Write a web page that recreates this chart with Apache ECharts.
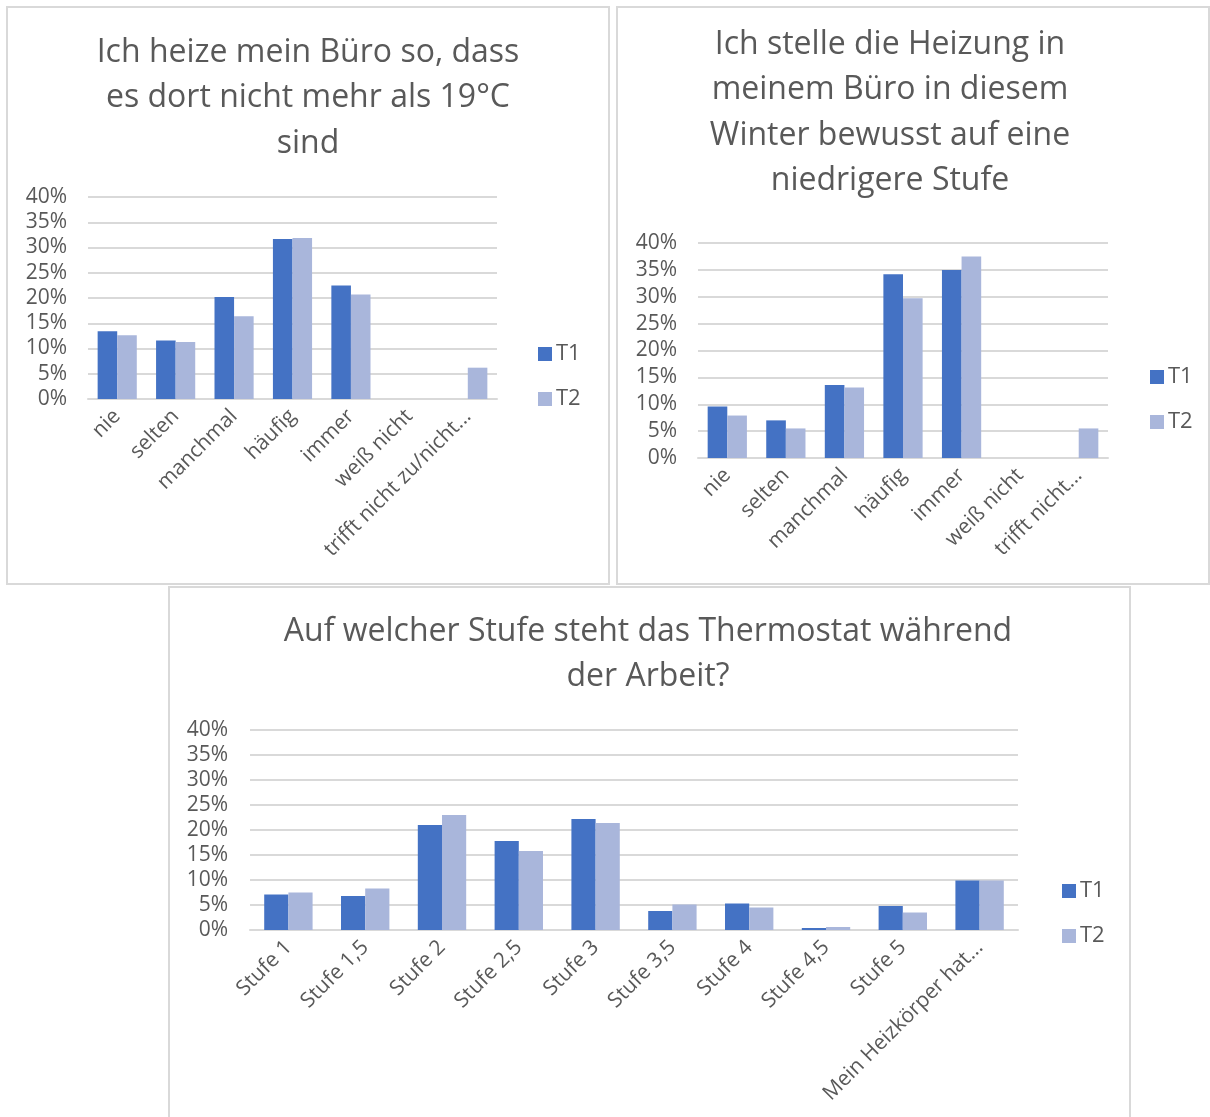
<!DOCTYPE html>
<html>
<head>
<meta charset="utf-8">
<script src="https://cdn.jsdelivr.net/npm/echarts@6/dist/echarts.min.js"></script>
<style>
html,body{margin:0;padding:0;background:#fff;}
#c{width:1210px;height:1117px;}
</style>
</head>
<body>
<div id="c"></div>
<script>
const seriesNames = ['T1', 'T2'];

const title1 = 'Ich heize mein Büro so, dass\nes dort nicht mehr als 19°C\nsind';
const cats1 = ['nie', 'selten', 'manchmal', 'häufig', 'immer', 'weiß nicht', 'trifft nicht zu/nicht...'];
const q1T1 = [13.4, 11.6, 20.2, 31.7, 22.5, 0, 0];
const q1T2 = [12.6, 11.3, 16.4, 31.9, 20.7, 0, 6.2];

const title2 = 'Ich stelle die Heizung in\nmeinem Büro in diesem\nWinter bewusst auf eine\nniedrigere Stufe';
const cats2 = ['nie', 'selten', 'manchmal', 'häufig', 'immer', 'weiß nicht', 'trifft nicht...'];
const q2T1 = [9.6, 7.0, 13.6, 34.2, 35.0, 0, 0];
const q2T2 = [7.9, 5.5, 13.1, 29.7, 37.5, 0, 5.5];

const title3 = 'Auf welcher Stufe steht das Thermostat während\nder Arbeit?';
const cats3 = ['Stufe 1', 'Stufe 1,5', 'Stufe 2', 'Stufe 2,5', 'Stufe 3', 'Stufe 3,5', 'Stufe 4', 'Stufe 4,5', 'Stufe 5', 'Mein Heizkörper hat...'];
const q3T1 = [7.1, 6.8, 21.0, 17.8, 22.2, 3.8, 5.3, 0.4, 4.8, 9.9];
const q3T2 = [7.5, 8.3, 23.0, 15.8, 21.4, 5.1, 4.5, 0.6, 3.5, 9.9];

const yMin = 0, yMax = 40, yStep = 5;

const FONT = 'Open Sans';
const TXT = '#595959';
const GRIDC = '#d9d9d9';
const C1 = '#4472c4';
const C2 = '#a9b6db';

const chart = echarts.init(document.getElementById('c'), null, {renderer: 'canvas'});

function xAxis(gi, cats) {
  return {
    type: 'category', gridIndex: gi, data: cats,
    axisTick: {show: false},
    axisLine: {show: true, lineStyle: {color: GRIDC, width: 2}},
    axisLabel: {interval: 0, rotate: 45, color: TXT, fontFamily: FONT, fontSize: 21, margin: 14}
  };
}
function yAxis(gi, margin) {
  return {
    type: 'value', gridIndex: gi, min: yMin, max: yMax, interval: yStep,
    axisLine: {show: false}, axisTick: {show: false},
    splitLine: {lineStyle: {color: GRIDC, width: 2}},
    axisLabel: {formatter: '{value}%', color: TXT, fontFamily: FONT, fontSize: 21, margin: margin}
  };
}
function bars(gi, name, data, color, gap) {
  return {
    type: 'bar', name: name, xAxisIndex: gi, yAxisIndex: gi, data: data,
    itemStyle: {color: color}, barGap: '0%', barCategoryGap: gap,
    emphasis: {disabled: true}
  };
}
function title(text, x, y) {
  return {
    text: text, left: x, top: y, textAlign: 'center', padding: 0,
    textStyle: {color: TXT, fontFamily: FONT, fontSize: 32, fontWeight: 'normal', lineHeight: 45.5}
  };
}
function legend(x, y) {
  return {
    data: seriesNames, orient: 'vertical', left: x, top: y, padding: 0,
    itemWidth: 14, itemHeight: 14, itemGap: 23, icon: 'rect',
    textStyle: {color: TXT, fontFamily: FONT, fontSize: 22, lineHeight: 22, padding: [0, 0, 0, -1]},
    selectedMode: false
  };
}

function rect(x, y, w, h) {
  return {type: 'rect', shape: {x: x, y: y, width: w, height: h}, style: {fill: 'none', stroke: GRIDC, lineWidth: 2}, silent: true};
}

chart.setOption({
  animation: false,
  backgroundColor: '#fff',
  graphic: [rect(7, 7, 602, 577), rect(617, 7, 592, 577), rect(169, 587, 961, 540)],
  title: [title(title1, 308, 30), title(title2, 890, 22), title(title3, 648, 609)],
  legend: [legend(538, 343), legend(1150, 366), legend(1062, 880)],
  grid: [
    {left: 88, top: 197, width: 409, height: 202},
    {left: 698, top: 243, width: 410, height: 215},
    {left: 250, top: 730, width: 768, height: 200}
  ],
  xAxis: [xAxis(0, cats1), xAxis(1, cats2), xAxis(2, cats3)],
  yAxis: [yAxis(0, 21), yAxis(1, 21), yAxis(2, 22)],
  series: [
    bars(0, seriesNames[0], q1T1, C1, '33%'),
    bars(0, seriesNames[1], q1T2, C2, '33%'),
    bars(1, seriesNames[0], q2T1, C1, '33%'),
    bars(1, seriesNames[1], q2T2, C2, '33%'),
    bars(2, seriesNames[0], q3T1, C1, '37%'),
    bars(2, seriesNames[1], q3T2, C2, '37%')
  ]
});
</script>
</body>
</html>
